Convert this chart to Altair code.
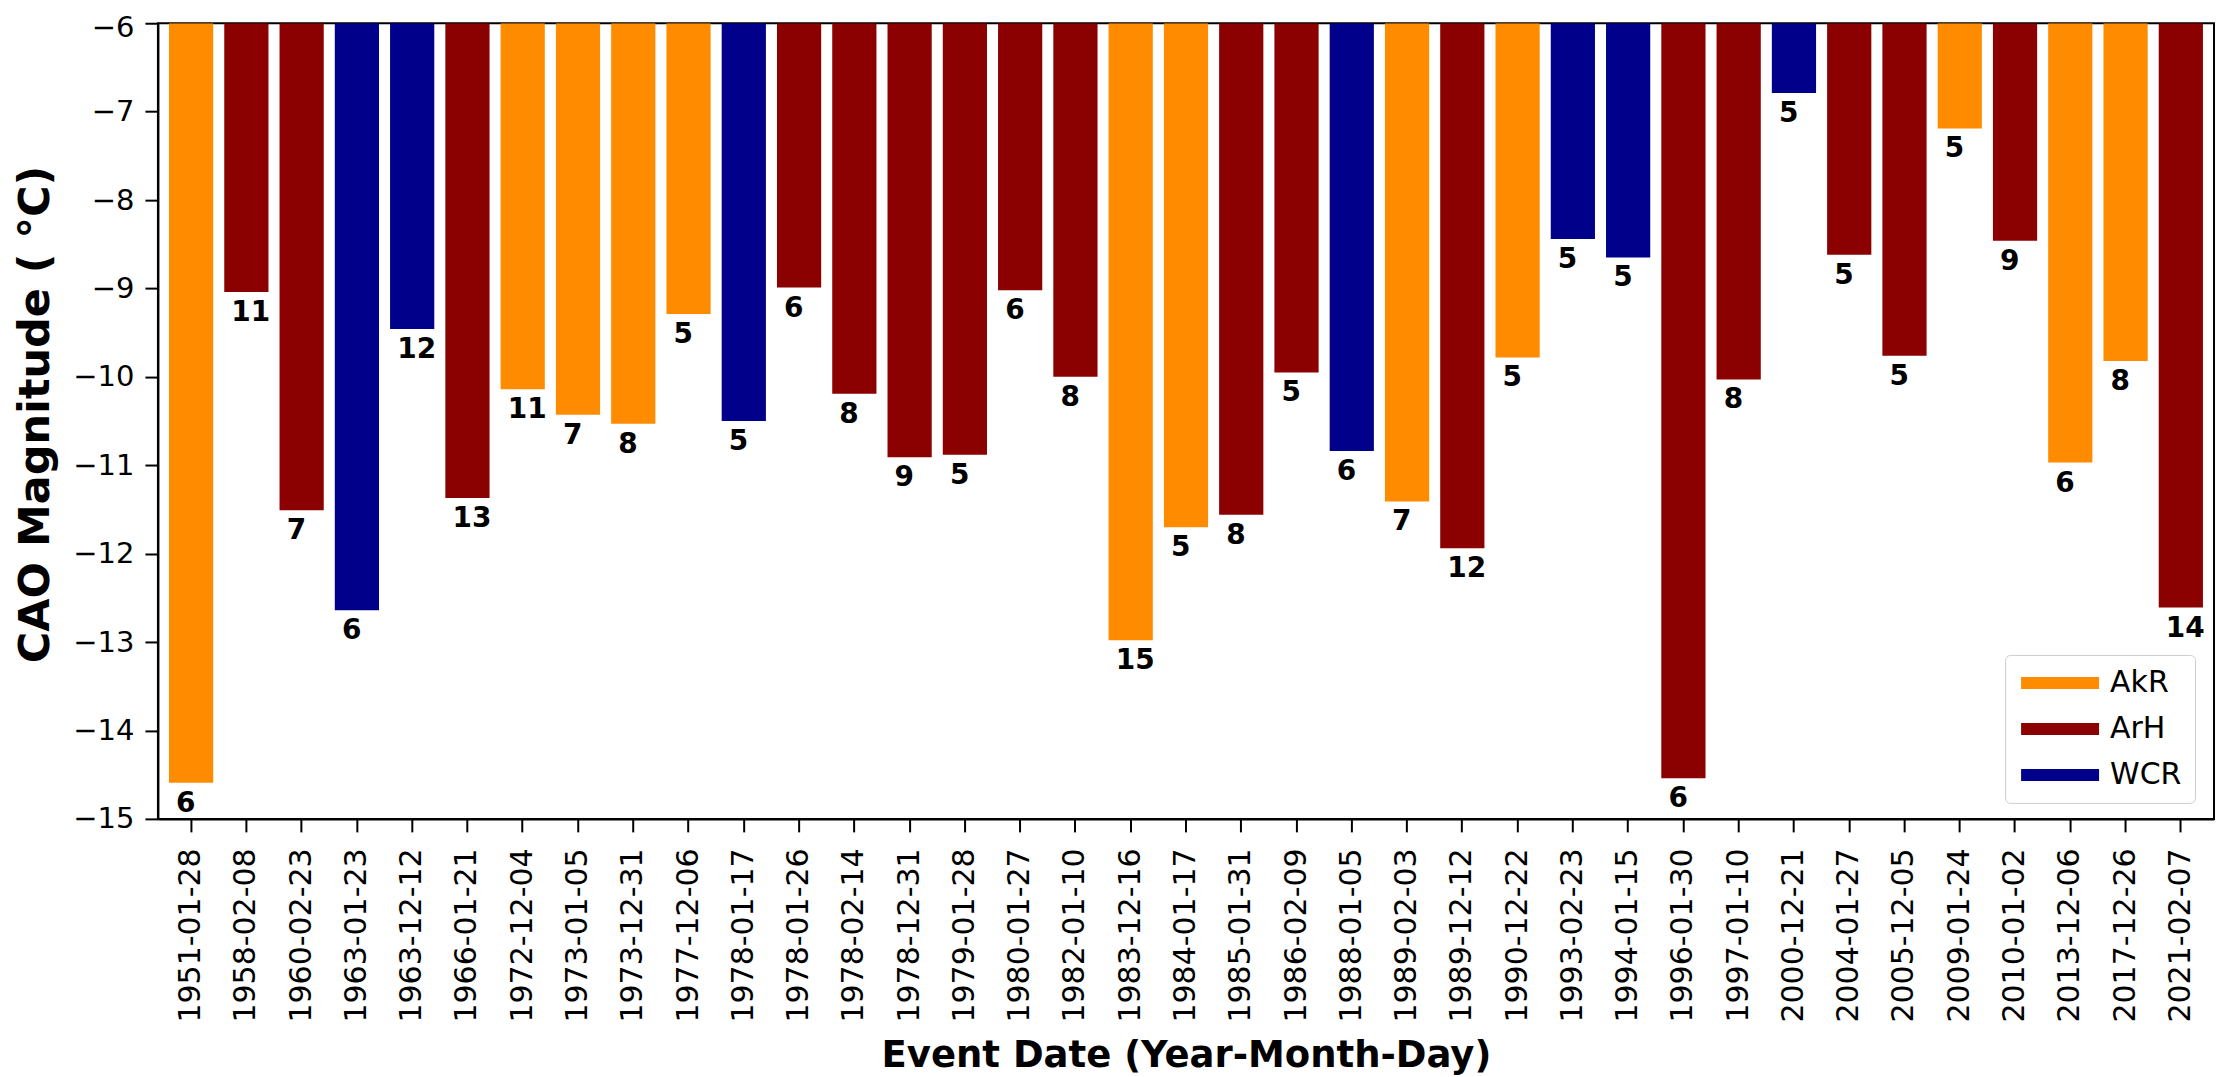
import altair as alt
import pandas as pd

dates = ["1951-01-28", "1958-02-08", "1960-02-23", "1963-01-23", "1963-12-12", "1966-01-21",
         "1972-12-04", "1973-01-05", "1973-12-31", "1977-12-06", "1978-01-17", "1978-01-26",
         "1978-02-14", "1978-12-31", "1979-01-28", "1980-01-27", "1982-01-10", "1983-12-16",
         "1984-01-17", "1985-01-31", "1986-02-09", "1988-01-05", "1989-02-03", "1989-12-12",
         "1990-12-22", "1993-02-23", "1994-01-15", "1996-01-30", "1997-01-10", "2000-12-21",
         "2004-01-27", "2005-12-05", "2009-01-24", "2010-01-02", "2013-12-06", "2017-12-26",
         "2021-02-07"]
magnitude = [-14.59, -9.04, -11.51, -12.64, -9.46, -11.37,
             -10.14, -10.43, -10.53, -9.29, -10.50, -8.99,
             -10.19, -10.91, -10.88, -9.02, -10.00, -12.98,
             -11.70, -11.56, -9.95, -10.84, -11.41, -11.94,
             -9.78, -8.44, -8.65, -14.54, -10.03, -6.79,
             -8.62, -9.76, -7.19, -8.46, -10.97, -9.82,
             -12.61]
regime = ["AkR", "ArH", "ArH", "WCR", "WCR", "ArH",
          "AkR", "AkR", "AkR", "AkR", "WCR", "ArH",
          "ArH", "ArH", "ArH", "ArH", "ArH", "AkR",
          "AkR", "ArH", "ArH", "WCR", "AkR", "ArH",
          "AkR", "WCR", "WCR", "ArH", "ArH", "WCR",
          "ArH", "ArH", "AkR", "ArH", "AkR", "AkR",
          "ArH"]
duration = [6, 11, 7, 6, 12, 13,
            11, 7, 8, 5, 5, 6,
            8, 9, 5, 6, 8, 15,
            5, 8, 5, 6, 7, 12,
            5, 5, 5, 6, 8, 5,
            5, 5, 5, 9, 6, 8,
            14]

categories = ["AkR", "ArH", "WCR"]
colors = ["#FF8C00", "#8B0000", "#00008B"]
y_ticks = [-15, -14, -13, -12, -11, -10, -9, -8, -7, -6]

df = pd.DataFrame({"date": dates, "mag": magnitude, "regime": regime, "n": duration})

FONT = "DejaVu Sans"

x_enc = alt.X("date:N", sort=dates,
              scale=alt.Scale(paddingInner=0.2, paddingOuter=0.2),
              axis=alt.Axis(title="Event Date (Year-Month-Day)", labelAngle=-90,
                            labelFontSize=30, labelPadding=16, tickSize=13, labelLimit=0,
                            titleFontSize=37, titleFontWeight="bold",
                            titleY=248, titleBaseline="alphabetic"))
y_enc = alt.Y("mag:Q", scale=alt.Scale(domain=[-15, -6], nice=False, zero=False),
              axis=alt.Axis(title="CAO Magnitude ( °C)", values=y_ticks, format="d",
                            labelFontSize=29, labelPadding=11, tickSize=13,
                            labelOffset={"condition": {"test": "datum.value === -6", "value": 4},
                                         "value": 0},
                            titleFontSize=43, titleFontWeight="bold",
                            titleX=-122, titleY=391, titleAngle=-90,
                            titleBaseline="middle", titleAlign="center"))

bars = alt.Chart(df).mark_bar(clip=True).encode(
    x=x_enc,
    y=y_enc,
    y2=alt.datum(-6),
    color=alt.Color("regime:N", scale=alt.Scale(domain=categories, range=colors),
                    legend=alt.Legend(title=None, orient="none", legendX=1848, legendY=632,
                                      symbolType="M-1,-0.5L5.5,-0.5L5.5,0.5L-1,0.5Z",
                                      symbolSize=576, symbolStrokeWidth=0,
                                      labelFontSize=30, labelFont=FONT, labelColor="black",
                                      labelOffset=62, rowPadding=16,
                                      padding=13, strokeColor="#cccccc", fillColor="white",
                                      cornerRadius=5)),
)

labels = alt.Chart(df).mark_text(align="left", baseline="top", dx=-15, dy=7,
                                 font=FONT, fontSize=28, fontWeight="bold",
                                 color="black").encode(
    x=alt.X("date:N", sort=dates),
    y=alt.Y("mag:Q"),
    text="n:Q",
)

chart = (bars + labels).properties(
    width=2057, height=796,
    autosize=alt.AutoSizeParams(type="none"),
    padding={"left": 150, "top": 15, "right": 10, "bottom": 262},
).configure_view(stroke="black", strokeWidth=2).configure_axis(
    domainColor="black", tickColor="black", domainWidth=2, tickWidth=2,
    labelColor="black", titleColor="black", labelFont=FONT, titleFont=FONT, grid=False
)

chart.save("out.html", embed_options={"renderer": "svg", "actions": False})
